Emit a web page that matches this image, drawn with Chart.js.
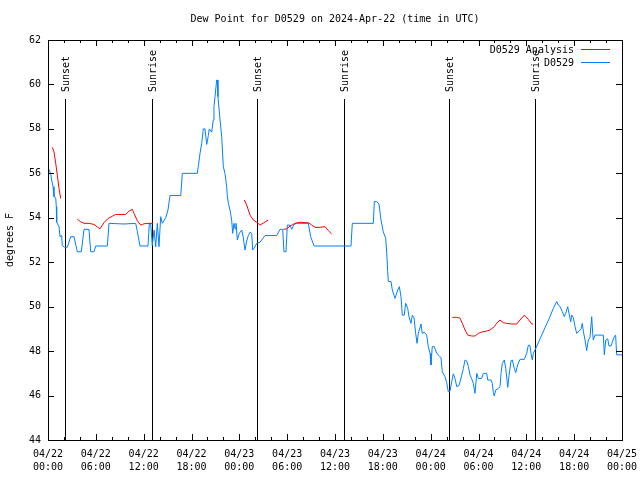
<!DOCTYPE html>
<html>
<head>
<meta charset="utf-8">
<script src="https://cdn.jsdelivr.net/npm/chart.js@4/dist/chart.umd.min.js"></script>
<style>
html,body{margin:0;padding:0;background:#fff;}
#wrap{width:640px;height:480px;}
</style>
</head>
<body>
<div id="wrap"><canvas id="c" width="640" height="480"></canvas></div>
<script>
// ---- data (hours since 2024-04-22 00:00 UTC) ----
const titleText = 'Dew Point for D0529 on 2024-Apr-22 (time in UTC)';
const yAxisTitle = 'degrees F';
const seriesNames = ['D0529 Analysis', 'D0529'];

const xTickHours = [0, 6, 12, 18, 24, 30, 36, 42, 48, 54, 60, 66, 72];
const xTickDates = ['04/22','04/22','04/22','04/22','04/23','04/23','04/23','04/23','04/24','04/24','04/24','04/24','04/25'];
const xTickTimes = ['00:00','06:00','12:00','18:00','00:00','06:00','12:00','18:00','00:00','06:00','12:00','18:00','00:00'];

const eventHours = [2.17, 13.08, 26.25, 37.17, 50.34, 61.13];
const eventLabels = ['Sunset', 'Sunrise', 'Sunset', 'Sunrise', 'Sunset', 'Sunrise'];

const obsHours = [0,0.13,0.34,0.41,0.63,0.75,0.97,1.04,1.09,1.38,1.51,1.72,1.79,2.09,2.42,2.85,3.26,3.68,4.18,4.52,5.14,5.36,5.77,5.98,7.44,7.65,9.53,11.0,11.2,11.54,12.54,12.71,12.88,13.08,13.3,13.51,13.71,13.92,14.14,14.34,14.76,15.05,15.3,16.65,16.85,18.73,18.85,19.07,19.28,19.48,19.69,19.91,20.11,20.23,20.53,20.73,20.82,20.95,21.16,21.24,21.32,21.58,21.79,21.99,22.2,22.41,22.49,22.62,22.83,23.04,23.17,23.33,23.46,23.58,23.75,24.0,24.3,24.5,24.71,24.92,25.13,25.34,25.55,25.68,25.97,26.18,26.59,27.22,28.69,29.1,29.44,29.6,29.85,30.02,30.36,30.57,30.86,31.2,32.65,32.95,33.37,38.01,38.17,40.81,40.93,41.23,41.52,41.77,42.06,42.36,42.49,42.61,42.69,43.03,43.19,43.53,43.87,44.07,44.28,44.44,44.69,44.86,45.12,45.28,45.53,45.7,45.91,46.12,46.29,46.45,46.79,46.95,47.2,47.5,47.7,47.92,48.04,48.2,48.46,48.76,49.05,49.3,49.46,49.8,50.01,50.21,50.43,50.64,50.84,51.05,51.27,51.56,51.9,52.1,52.31,52.53,52.73,52.94,53.15,53.35,53.56,53.78,53.98,54.4,54.6,55.03,55.16,55.57,55.73,55.86,55.98,56.16,56.41,56.7,56.83,56.99,57.24,57.42,57.67,57.83,58.08,58.24,58.49,58.67,58.92,59.21,59.75,60.05,60.25,60.46,60.59,60.75,60.88,61.09,61.72,62.34,62.97,63.35,63.81,64.01,64.23,64.51,64.76,64.94,65.19,65.35,65.57,65.69,65.9,66.11,66.32,66.61,66.86,67.02,67.15,67.36,67.57,67.77,67.98,68.2,68.32,68.4,68.61,69.66,69.78,69.96,70.21,70.37,70.62,70.78,71.03,71.2,71.33,72.0];
const obsValues = [56.3,56.15,56.0,55.8,55.4,54.95,54.9,54.5,53.8,53.6,53.15,53.2,52.75,52.67,52.67,53.15,53.15,52.47,52.47,53.48,53.48,52.47,52.47,52.73,52.73,53.75,53.72,53.75,53.4,52.73,52.73,53.75,53.75,52.75,53.45,52.7,53.75,52.7,54.05,53.75,54.0,54.35,55.0,55.0,56.0,56.0,56.3,56.9,57.35,58.0,58.0,57.3,57.7,58.0,57.85,58.4,59.0,59.45,60.2,60.2,59.45,58.4,57.65,56.3,56.0,55.4,55.0,54.65,54.35,53.9,53.3,53.75,53.5,53.75,53.0,53.3,53.45,53.1,52.55,52.95,53.2,53.35,53.3,52.55,52.7,52.85,52.9,53.2,53.2,53.48,53.48,52.47,52.47,53.67,53.67,53.48,53.7,53.75,53.75,53.15,52.73,52.73,53.75,53.75,54.73,54.73,54.62,53.9,53.37,53.07,52.4,51.57,51.13,51.13,50.75,50.37,50.75,50.9,50.45,49.62,49.62,50.15,49.93,49.55,49.25,49.62,49.5,48.8,48.35,48.8,49.22,48.8,48.85,48.72,48.2,47.9,47.38,48.2,48.2,47.9,47.8,47.7,47.07,46.85,46.58,46.17,46.2,46.62,46.98,46.77,46.4,46.45,46.92,47.22,47.6,47.55,47.3,46.92,46.75,46.55,46.1,47.0,46.77,46.77,47.0,47.0,46.7,46.7,46.55,46.13,45.98,46.25,46.3,46.4,47.0,47.45,47.6,47.22,46.37,46.9,47.57,47.6,47.22,47.03,47.4,47.63,47.63,47.9,48.27,48.25,47.9,47.6,47.9,48.05,48.55,49.05,49.55,49.9,50.23,50.07,50.0,49.78,49.55,49.7,50.0,49.7,49.32,49.62,49.5,49.1,48.8,48.9,49.0,49.25,48.9,48.5,48.02,48.5,48.6,49.55,48.8,48.5,48.72,48.72,47.83,48.5,48.55,48.23,48.23,48.4,48.65,48.72,47.83,47.83];

const anaHours = [0.54,0.75,0.97,1.17,1.38,1.59,2.5,3.68,4.1,4.52,5.14,5.77,6.52,7.02,7.53,8.07,8.49,9.75,10.16,10.57,10.79,11.2,11.63,12.04,12.67,13.17,20,24.62,24.92,25.34,25.75,26.18,26.59,27.09,27.63,28.5,29.52,29.94,30.36,30.98,31.61,32.24,32.65,33.08,33.49,34.12,34.75,35.16,35.59,45,50.72,51.27,51.68,51.97,52.31,52.65,53.15,53.56,53.98,54.4,55.03,55.44,55.98,56.28,56.7,57.11,57.53,58.17,58.79,59.21,59.75,60.25,60.67,60.84];
const anaValues = [57.17,56.97,56.45,55.92,55.32,54.87,null,53.93,53.82,53.75,53.75,53.7,53.5,53.78,53.97,54.07,54.15,54.15,54.3,54.38,54.2,53.87,53.67,53.73,53.75,53.75,null,54.8,54.58,54.12,53.9,53.8,53.67,53.78,53.9,null,53.48,53.5,53.63,53.75,53.8,53.78,53.78,53.67,53.57,53.57,53.6,53.42,53.27,null,49.52,49.52,49.48,49.25,48.95,48.72,48.68,48.68,48.8,48.86,48.9,48.95,49.1,49.25,49.4,49.28,49.25,49.22,49.22,49.4,49.62,49.43,49.22,49.22];

const colors = ['rgb(255,0,0)', 'rgb(0,128,255)'];
const FONT = 'DejaVu Sans Mono';

const toPts = (xs, ys) => xs.map((x, i) => ({x: x, y: ys[i] === null ? null : ys[i]}));

const gnuplotDecor = {
  id: 'gnuplotDecor',
  beforeDatasetsDraw(chart) {
    const ctx = chart.ctx, ca = chart.chartArea, xs = chart.scales.x;
    ctx.save();
    ctx.strokeStyle = '#000';
    ctx.lineWidth = 1;
    ctx.fillStyle = '#000';
    ctx.font = '10px "' + FONT + '"';
    eventHours.forEach((h, i) => {
      const px = Math.round(xs.getPixelForValue(h)) + 0.5;
      ctx.beginPath();
      ctx.moveTo(px, 99);
      ctx.lineTo(px, ca.bottom);
      ctx.stroke();
      ctx.save();
      ctx.translate(px + 1, 92);
      ctx.rotate(-Math.PI / 2);
      ctx.textAlign = 'left';
      ctx.textBaseline = 'middle';
      ctx.fillText(eventLabels[i], 0, 0);
      ctx.restore();
    });
    ctx.restore();
  },
  afterDatasetsDraw(chart) {
    const ctx = chart.ctx, ca = chart.chartArea, xs = chart.scales.x, ys = chart.scales.y;
    ctx.save();
    ctx.strokeStyle = '#000';
    ctx.lineWidth = 1;
    // frame
    ctx.strokeRect(Math.round(ca.left) + 0.5, Math.round(ca.top) + 0.5,
                   Math.round(ca.right - ca.left), Math.round(ca.bottom - ca.top));
    // x ticks (inward, mirrored)
    xs.ticks.forEach(t => {
      const px = Math.round(xs.getPixelForValue(t.value)) + 0.5;
      const len = (xTickHours.indexOf(t.value) >= 0) ? 6 : 3;
      ctx.beginPath();
      ctx.moveTo(px, ca.bottom); ctx.lineTo(px, ca.bottom - len);
      ctx.moveTo(px, ca.top); ctx.lineTo(px, ca.top + len);
      ctx.stroke();
    });
    // y ticks (inward, mirrored)
    ys.ticks.forEach(t => {
      const py = Math.round(ys.getPixelForValue(t.value)) + 0.5;
      ctx.beginPath();
      ctx.moveTo(ca.left, py); ctx.lineTo(ca.left + 6, py);
      ctx.moveTo(ca.right, py); ctx.lineTo(ca.right - 6, py);
      ctx.stroke();
    });
    // title
    ctx.fillStyle = '#000';
    ctx.font = '10px "' + FONT + '"';
    ctx.textAlign = 'center';
    ctx.textBaseline = 'middle';
    ctx.fillText(titleText, (ca.left + ca.right) / 2, 19);
    // legend
    ctx.textAlign = 'right';
    const legY = [50, 63];
    seriesNames.forEach((n, i) => {
      ctx.fillStyle = '#000';
      ctx.fillText(n, ca.right - 48, legY[i]);
      ctx.strokeStyle = colors[i];
      ctx.beginPath();
      ctx.moveTo(ca.right - 41, legY[i] - 0.5);
      ctx.lineTo(ca.right - 12, legY[i] - 0.5);
      ctx.stroke();
    });
    ctx.restore();
  }
};

new Chart(document.getElementById('c'), {
  type: 'scatter',
  data: {
    datasets: [
      { label: seriesNames[0], data: toPts(anaHours, anaValues), showLine: true, spanGaps: false,
        borderColor: colors[0], borderWidth: 1, pointRadius: 0, tension: 0 },
      { label: seriesNames[1], data: toPts(obsHours, obsValues), showLine: true, spanGaps: false,
        borderColor: colors[1], borderWidth: 1, pointRadius: 0, tension: 0 }
    ]
  },
  options: {
    responsive: false,
    animation: false,
    events: [],
    layout: { padding: { top: 40, right: 18, left: 0, bottom: 0 } },
    plugins: { legend: { display: false }, title: { display: false }, tooltip: { enabled: false } },
    scales: {
      x: {
        type: 'linear', min: 0, max: 72,
        grid: { display: false, drawTicks: false },
        border: { display: false },
        afterFit(s) { s.height = 40; s.paddingLeft = 0; s.paddingRight = 0; },
        ticks: {
          stepSize: 2, autoSkip: false, maxRotation: 0, minRotation: 0, padding: 8,
          color: '#000', font: { family: FONT, size: 10, lineHeight: 1.3 },
          callback(v) { const i = xTickHours.indexOf(v); return i >= 0 ? [xTickDates[i], xTickTimes[i]] : ''; }
        }
      },
      y: {
        type: 'linear', min: 44, max: 62,
        grid: { display: false, drawTicks: false },
        border: { display: false },
        afterFit(s) { s.width = 48; s.paddingTop = 0; s.paddingBottom = 0; },
        title: { display: true, text: yAxisTitle, color: '#000', font: { family: FONT, size: 10 }, padding: { top: 4, bottom: 0 } },
        ticks: { stepSize: 2, padding: 7, color: '#000', font: { family: FONT, size: 10 } }
      }
    }
  },
  plugins: [gnuplotDecor]
});
</script>
</body>
</html>
